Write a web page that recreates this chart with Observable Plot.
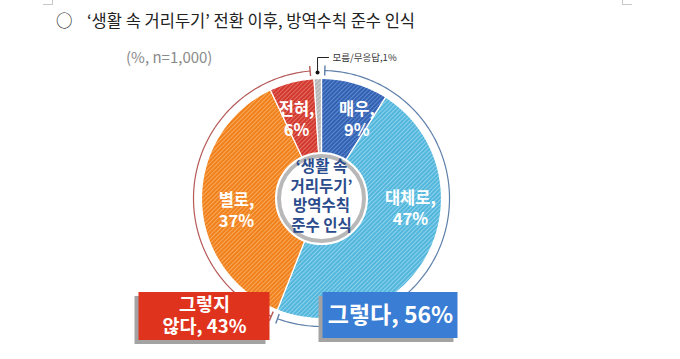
<!DOCTYPE html>
<html><head><meta charset="utf-8">
<script src="https://cdn.jsdelivr.net/npm/d3@7"></script>
<script src="https://cdn.jsdelivr.net/npm/@observablehq/plot@0.6"></script>
<style>
html,body{margin:0;padding:0;background:#fff;width:680px;height:359px;overflow:hidden;font-family:"Noto Sans CJK KR","Noto Sans",sans-serif;}
#title{position:absolute;left:56px;top:8px;font-size:16.5px;color:#222;white-space:pre;z-index:2;}
#title .c{display:inline-block;width:31px;}
#note{position:absolute;left:126px;top:46px;font-size:15px;color:#8a8a8a;z-index:2;}
#chart{position:absolute;left:0;top:40px;z-index:1;}
.corner{position:absolute;top:0;width:9px;height:4px;border-color:#c8c8c8;border-style:solid;border-width:0;z-index:2;}
</style></head>
<body>
<div class="corner" style="left:43px;border-right-width:1px;border-bottom-width:1px;"></div>
<div class="corner" style="left:622px;border-left-width:1px;border-bottom-width:1px;"></div>
<div id="title"><span class="c">○</span><span id="tt"></span></div>
<div id="note"></div>
<svg width="0" height="0" style="position:absolute"><defs id="defs"></defs></svg>
<div id="chart"></div>
<script>
// ---- data ----
const titleText = "‘생활 속 거리두기’ 전환 이후, 방역수칙 준수 인식";
const noteText = "(%, n=1,000)";
const categories = ["매우", "대체로", "별로", "전혀", "모름/무응답"];
const values = [9, 47, 37, 6, 1];
const groupOf = ["그렇다", "그렇다", "그렇지 않다", "그렇지 않다", null];
const groupNames = ["그렇다", "그렇지 않다"];
const groupValues = [56, 43];
const centerLines = ["‘생활 속", "거리두기’", "방역수칙", "준수 인식"];

// ---- style / layout ----
const baseColors = ["#2f5fb0", "#4fb5db", "#f07e18", "#d0352a", "#b3b3b3"];
const stripeColors = ["#5f88cf", "#8dd1ec", "#f9a95a", "#e56c62", "#d2d2d2"];
const R = 120, ringR = 128;
const labelNudge = {"매우": [12, -2], "대체로": [14, 27], "별로": [-1, -10], "전혀": [-4, -3]};
const boxLayout = {
  "그렇다": {cx: 69, cy: -117, w: 135, h: 46, fill: "#3a7dd4", size: 23, lh: 26},
  "그렇지 않다": {cx: -117, cy: -118, w: 131, h: 48, fill: "#e0331e", size: 18.5, lh: 22}
};

document.getElementById("tt").textContent = titleText;
document.getElementById("note").textContent = noteText;

// hatch patterns
const ns = "http://www.w3.org/2000/svg";
const defs = document.getElementById("defs");
baseColors.forEach((c, i) => {
  const p = document.createElementNS(ns, "pattern");
  p.setAttribute("id", "hatch" + i);
  p.setAttribute("patternUnits", "userSpaceOnUse");
  p.setAttribute("width", "3"); p.setAttribute("height", "3");
  p.setAttribute("patternTransform", "rotate(45)");
  const r = document.createElementNS(ns, "rect");
  r.setAttribute("width", "3"); r.setAttribute("height", "3"); r.setAttribute("fill", c);
  const l = document.createElementNS(ns, "rect");
  l.setAttribute("width", "1.1"); l.setAttribute("height", "3"); l.setAttribute("fill", stripeColors[i]);
  p.appendChild(r); p.appendChild(l); defs.appendChild(p);
});

const rows = categories.map((c, i) => ({category: c, value: values[i], group: groupOf[i], i}));
const arcs = d3.pie().sort(null).value(d => d.value)(rows);
const pt = (a, r) => ({x: r * Math.sin(a), y: r * Math.cos(a)});
const deg = Math.PI / 180;
function arcPath(a0, a1, r) {
  const n = Math.max(2, Math.ceil((a1 - a0) / deg));
  return d3.range(n + 1).map(k => pt(a0 + (a1 - a0) * k / n, r));
}
const slices = arcs.map(a => ({a, pts: [{x: 0, y: 0}, ...arcPath(a.startAngle, a.endAngle, R), {x: 0, y: 0}]}));

// split multi-line labels into single-line texts
function lines(textLines, cx, cy, lh) {
  const n = textLines.length;
  return textLines.map((t, k) => ({x: cx, y: cy + ((n - 1) / 2 - k) * lh, t}));
}

// slice labels
const sliceLabels = arcs.filter(a => a.data.group).flatMap(a => {
  const mid = (a.startAngle + a.endAngle) / 2;
  const c = pt(mid, 84);
  const n = labelNudge[a.data.category] || [0, 0];
  return lines([`${a.data.category},`, `${a.data.value}%`], c.x + n[0], c.y + n[1], 21);
});

// group rings
const gap = 1.5 * deg;
const ringArcs = groupNames.map(g => {
  const members = arcs.filter(a => a.data.group === g);
  const a0 = d3.min(members, a => a.startAngle), a1 = d3.max(members, a => a.endAngle);
  return {g, a0: a0 + gap, a1: a1 - gap, color: g === "그렇다" ? "#5f80aa" : "#b55a58"};
});
const ringLines = ringArcs.flatMap(r => arcPath(r.a0, r.a1, ringR).map(p => ({...p, g: r.g})));
const ringTicks = ringArcs.flatMap(r => [r.a0, r.a1].map(a => {
  const p0 = pt(a, ringR - 5), p1 = pt(a, ringR + 5);
  return {x1: p0.x, y1: p0.y, x2: p1.x, y2: p1.y, color: r.color};
}));

// unknown leader
const unk = arcs.find(a => !a.data.group);
const um = (unk.startAngle + unk.endAngle) / 2;
const dotP = pt(um, ringR - 2);
const leader = [dotP, {x: dotP.x, y: ringR + 13}, {x: dotP.x + 11, y: ringR + 13}];

const boxes = groupNames.map((g, i) => ({g, v: groupValues[i], ...boxLayout[g]}));
const boxTexts = boxes.flatMap(b => {
  const tl = b.g === "그렇다" ? [`${b.g}, ${b.v}%`] : ["그렇지", `않다, ${b.v}%`];
  return lines(tl, b.cx, b.cy, b.lh).map(d => ({...d, size: b.size}));
});

const chart = Plot.plot({
  width: 680, height: 319, margin: 0,
  x: {type: "linear", domain: [-321, 359], axis: null},
  y: {type: "linear", domain: [-161, 158], axis: null},
  style: {fontFamily: "'Noto Sans CJK KR', sans-serif", background: "transparent", overflow: "visible"},
  marks: [
    ...slices.map(s => Plot.line(s.pts, {x: "x", y: "y", fill: `url(#hatch${s.a.data.i})`, stroke: "white", strokeWidth: 1.2, curve: "linear"})),
    Plot.dot([{x: 0, y: 0}], {x: "x", y: "y", r: 45, fill: "white", stroke: "white", strokeWidth: 3}),
    Plot.dot([{x: 0, y: 0}], {x: "x", y: "y", r: 42.5, fill: "white", stroke: "#b8b8b8", strokeWidth: 4}),
    Plot.text(lines(centerLines, 0, 2, 19.7), {x: "x", y: "y", text: "t", fill: "#2b4c8c", fontSize: 15.5, fontWeight: 700}),
    Plot.text(sliceLabels, {x: "x", y: "y", text: "t", fill: "white", fontSize: 16.5, fontWeight: 700}),
    ...ringArcs.map(r => Plot.line(ringLines.filter(p => p.g === r.g), {x: "x", y: "y", stroke: r.color, strokeWidth: 1.2})),
    Plot.link(ringTicks, {x1: "x1", y1: "y1", x2: "x2", y2: "y2", stroke: "color", strokeWidth: 1.4}),
    Plot.line(leader, {x: "x", y: "y", stroke: "#222", strokeWidth: 1}),
    Plot.dot([dotP], {x: "x", y: "y", r: 2, fill: "#111"}),
    Plot.text([{x: leader[2].x + 4, y: leader[2].y, t: `${unk.data.category},${unk.data.value}%`}], {x: "x", y: "y", text: "t", textAnchor: "start", fontSize: 9.5, fill: "#333"}),
    Plot.rect(boxes, {x1: d => d.cx - d.w / 2 - 4, x2: d => d.cx + d.w / 2 - 4, y1: d => d.cy - d.h / 2 - 4, y2: d => d.cy + d.h / 2 - 4, fill: "#a3a3a3"}),
    Plot.rect(boxes, {x1: d => d.cx - d.w / 2, x2: d => d.cx + d.w / 2, y1: d => d.cy - d.h / 2, y2: d => d.cy + d.h / 2, fill: d => d.fill}),
    Plot.text(boxTexts, {x: "x", y: "y", text: "t", fill: "white", fontSize: d => d.size, fontWeight: 700})
  ]
});
document.getElementById("chart").appendChild(chart);
</script>
</body></html>
